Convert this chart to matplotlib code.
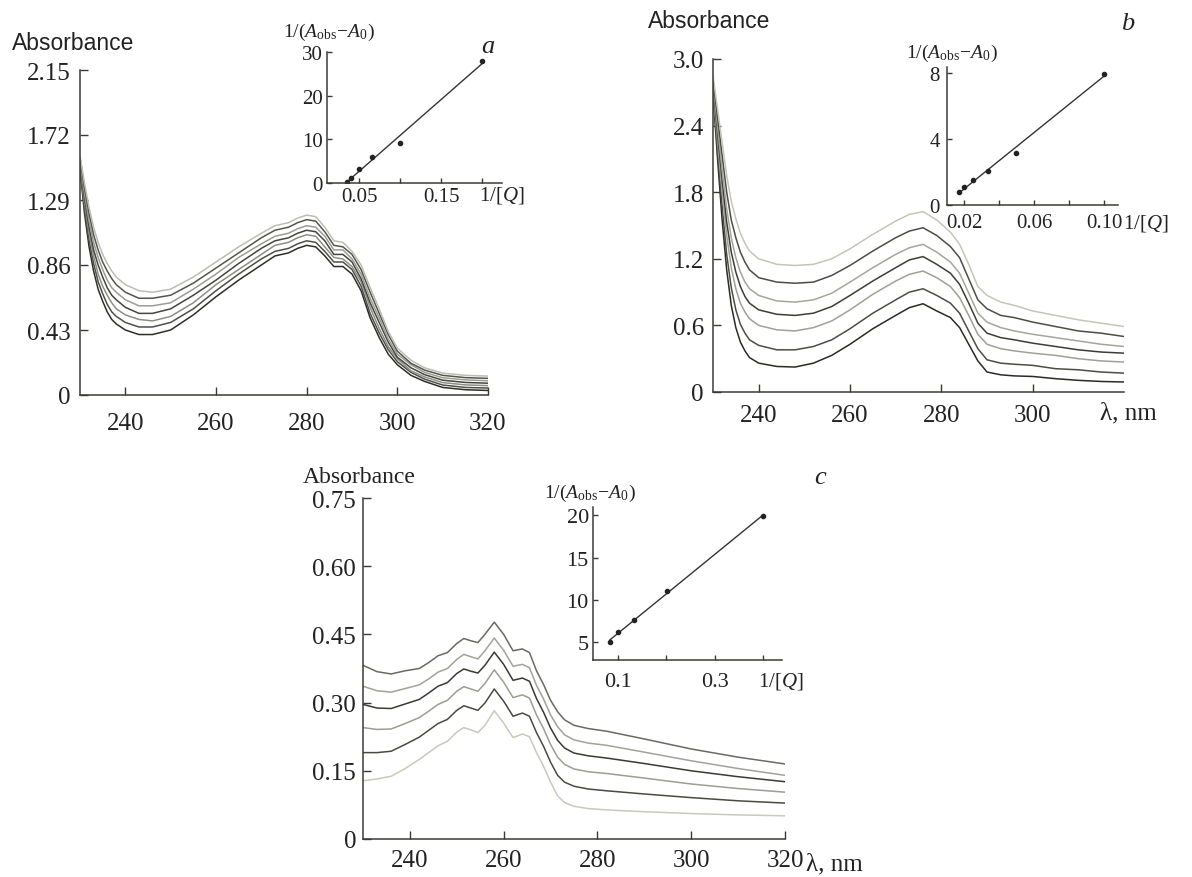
import numpy as np
import matplotlib
matplotlib.use("Agg")
import matplotlib.pyplot as plt

plt.rcParams['font.family'] = 'Liberation Serif'
plt.rcParams['mathtext.fontset'] = 'custom'
plt.rcParams['mathtext.rm'] = 'Liberation Serif'
plt.rcParams['mathtext.it'] = 'Liberation Serif:italic'

# ---- panel a: spectra (bottom curve first) ----
wl_a = [230, 231, 232, 233, 234, 235, 236, 237, 238, 240, 243, 246, 250, 255, 260, 265, 270, 273, 276,
        278, 280, 282, 284, 286, 288, 290, 292, 294, 296, 298, 300, 303, 306, 310, 315, 320]
a0 = [1.50, 1.20, 0.98, 0.82, 0.70, 0.62, 0.55, 0.50, 0.47, 0.43, 0.40, 0.40, 0.43, 0.53, 0.65, 0.76, 0.86, 0.92, 0.94,
      0.97, 0.99, 0.98, 0.92, 0.85, 0.85, 0.80, 0.69, 0.51, 0.38, 0.27, 0.20, 0.13, 0.09, 0.05, 0.035, 0.03]
a1 = [1.51, 1.23, 1.02, 0.87, 0.75, 0.67, 0.60, 0.55, 0.52, 0.48, 0.45, 0.45, 0.48, 0.57, 0.69, 0.80, 0.90, 0.95, 0.97,
      1.00, 1.02, 1.01, 0.95, 0.88, 0.88, 0.83, 0.72, 0.54, 0.41, 0.30, 0.22, 0.15, 0.105, 0.066, 0.05, 0.046]
a2 = [1.53, 1.27, 1.07, 0.92, 0.80, 0.72, 0.66, 0.61, 0.57, 0.53, 0.50, 0.49, 0.52, 0.61, 0.73, 0.83, 0.93, 0.99, 1.01,
      1.04, 1.06, 1.05, 0.98, 0.91, 0.90, 0.85, 0.75, 0.58, 0.44, 0.32, 0.24, 0.16, 0.12, 0.082, 0.067, 0.062]
a3 = [1.54, 1.30, 1.11, 0.96, 0.86, 0.78, 0.71, 0.66, 0.63, 0.58, 0.54, 0.54, 0.57, 0.66, 0.76, 0.87, 0.97, 1.02, 1.04,
      1.07, 1.09, 1.08, 1.02, 0.93, 0.93, 0.88, 0.77, 0.61, 0.48, 0.35, 0.25, 0.18, 0.135, 0.098, 0.083, 0.078]
a4 = [1.55, 1.33, 1.15, 1.01, 0.91, 0.83, 0.76, 0.71, 0.68, 0.63, 0.59, 0.59, 0.61, 0.70, 0.80, 0.91, 1.00, 1.05, 1.07,
      1.10, 1.12, 1.11, 1.05, 0.96, 0.96, 0.90, 0.80, 0.64, 0.51, 0.37, 0.27, 0.20, 0.15, 0.114, 0.10, 0.094]
a5 = [1.57, 1.37, 1.20, 1.06, 0.96, 0.88, 0.82, 0.77, 0.73, 0.68, 0.64, 0.64, 0.66, 0.74, 0.84, 0.94, 1.04, 1.09, 1.11,
      1.14, 1.16, 1.15, 1.08, 0.99, 0.98, 0.93, 0.83, 0.68, 0.54, 0.40, 0.29, 0.21, 0.165, 0.13, 0.115, 0.11]
a6 = [1.58, 1.40, 1.24, 1.11, 1.01, 0.93, 0.87, 0.82, 0.78, 0.73, 0.69, 0.68, 0.70, 0.78, 0.88, 0.98, 1.07, 1.12, 1.14,
      1.17, 1.19, 1.18, 1.11, 1.02, 1.01, 0.95, 0.86, 0.71, 0.57, 0.42, 0.31, 0.23, 0.18, 0.145, 0.13, 0.125]
cols_a = ['#2e2e29', '#4f4f48', '#8e8e86', '#45453f', '#9c9c94', '#55554d', '#bdbdb2']

# inset a
qa = [0.035, 0.040, 0.050, 0.066, 0.100, 0.200]
ra = [0.3, 1.1, 3.3, 5.9, 9.2, 27.9]

# ---- panel b ----
wl_b = [230, 231, 232, 233, 234, 235, 236, 237, 238, 240, 244, 248, 252, 256, 260, 265, 270, 273, 276, 279,
        282, 284, 286, 288, 290, 293, 296, 300, 305, 310, 315, 320]
b0 = [2.70, 2.10, 1.55, 1.10, 0.78, 0.58, 0.45, 0.37, 0.31, 0.26, 0.23, 0.225, 0.26, 0.33, 0.43, 0.57, 0.69, 0.76,
      0.795, 0.73, 0.67, 0.58, 0.43, 0.28, 0.18, 0.155, 0.145, 0.14, 0.12, 0.105, 0.095, 0.09]
b1 = [2.72, 2.17, 1.67, 1.24, 0.94, 0.74, 0.61, 0.53, 0.47, 0.42, 0.38, 0.38, 0.41, 0.47, 0.57, 0.71, 0.83, 0.90,
      0.93, 0.87, 0.80, 0.71, 0.55, 0.39, 0.29, 0.26, 0.25, 0.24, 0.21, 0.20, 0.18, 0.17]
b2 = [2.75, 2.26, 1.80, 1.41, 1.12, 0.93, 0.80, 0.72, 0.66, 0.60, 0.56, 0.55, 0.58, 0.64, 0.74, 0.88, 1.00, 1.06,
      1.09, 1.03, 0.95, 0.85, 0.69, 0.52, 0.43, 0.39, 0.37, 0.35, 0.33, 0.30, 0.28, 0.27]
b3 = [2.78, 2.33, 1.91, 1.53, 1.26, 1.08, 0.95, 0.86, 0.80, 0.74, 0.70, 0.69, 0.71, 0.77, 0.87, 1.00, 1.12, 1.19,
      1.22, 1.15, 1.07, 0.97, 0.80, 0.62, 0.53, 0.49, 0.47, 0.44, 0.41, 0.38, 0.36, 0.35]
b4 = [2.80, 2.39, 2.00, 1.65, 1.39, 1.21, 1.08, 0.99, 0.93, 0.87, 0.82, 0.81, 0.83, 0.89, 0.99, 1.12, 1.24, 1.30,
      1.33, 1.26, 1.17, 1.07, 0.89, 0.71, 0.63, 0.58, 0.55, 0.52, 0.49, 0.46, 0.43, 0.41]
b5 = [2.82, 2.47, 2.13, 1.80, 1.55, 1.39, 1.26, 1.17, 1.10, 1.03, 0.99, 0.98, 0.99, 1.05, 1.14, 1.27, 1.39, 1.45,
      1.48, 1.41, 1.31, 1.21, 1.02, 0.83, 0.75, 0.69, 0.67, 0.63, 0.59, 0.55, 0.53, 0.50]
b6 = [2.85, 2.55, 2.25, 1.95, 1.72, 1.56, 1.43, 1.34, 1.27, 1.20, 1.15, 1.14, 1.15, 1.20, 1.29, 1.42, 1.54, 1.60,
      1.625, 1.55, 1.44, 1.33, 1.15, 0.95, 0.87, 0.81, 0.78, 0.73, 0.69, 0.65, 0.62, 0.59]
cols_b = ['#2a2a25', '#4d4d45', '#a0a096', '#3d3d37', '#a5a59a', '#4d4d45', '#c5c5b8']

qb = [0.0167, 0.020, 0.025, 0.0333, 0.0497, 0.100]
rb = [0.79, 1.06, 1.52, 2.07, 3.14, 7.94]

# ---- panel c ----
wl_c = [230, 233, 236, 239, 242, 244, 246, 248, 250, 251.5, 253, 254.5, 256, 258, 260, 262, 264, 265.5,
        267, 268.5, 270, 271.5, 273, 275, 278, 282, 290, 300, 310, 320]
c0 = [0.128, 0.132, 0.138, 0.155, 0.175, 0.19, 0.205, 0.215, 0.235, 0.245, 0.24, 0.234, 0.25, 0.282, 0.255, 0.223,
      0.231, 0.225, 0.19, 0.16, 0.125, 0.095, 0.08, 0.072, 0.067, 0.064, 0.060, 0.056, 0.053, 0.051]
c1 = [0.190, 0.190, 0.193, 0.208, 0.224, 0.239, 0.254, 0.263, 0.283, 0.293, 0.288, 0.283, 0.299, 0.330, 0.303, 0.270,
      0.277, 0.270, 0.234, 0.204, 0.169, 0.140, 0.125, 0.116, 0.110, 0.106, 0.099, 0.091, 0.084, 0.079]
c2 = [0.245, 0.241, 0.242, 0.254, 0.267, 0.281, 0.296, 0.305, 0.325, 0.335, 0.330, 0.325, 0.342, 0.372, 0.345, 0.311,
      0.317, 0.310, 0.273, 0.243, 0.208, 0.180, 0.164, 0.154, 0.148, 0.144, 0.134, 0.121, 0.111, 0.103]
c3 = [0.296, 0.288, 0.287, 0.297, 0.307, 0.321, 0.336, 0.344, 0.364, 0.374, 0.369, 0.365, 0.382, 0.411, 0.384, 0.349,
      0.354, 0.347, 0.309, 0.279, 0.244, 0.217, 0.200, 0.189, 0.183, 0.178, 0.166, 0.150, 0.137, 0.126]
c4 = [0.336, 0.326, 0.323, 0.331, 0.339, 0.352, 0.367, 0.375, 0.395, 0.406, 0.401, 0.396, 0.414, 0.442, 0.415, 0.380,
      0.384, 0.377, 0.338, 0.308, 0.273, 0.247, 0.229, 0.218, 0.211, 0.206, 0.191, 0.172, 0.155, 0.140]
c5 = [0.382, 0.368, 0.363, 0.370, 0.375, 0.388, 0.403, 0.410, 0.430, 0.441, 0.436, 0.432, 0.450, 0.477, 0.450, 0.414,
      0.418, 0.410, 0.370, 0.340, 0.305, 0.280, 0.262, 0.250, 0.243, 0.237, 0.220, 0.198, 0.180, 0.165]
cols_c = ['#c9c9bd', '#4a4a43', '#9d9d93', '#3a3a34', '#a2a298', '#6a6a62']

qc = [0.0834, 0.1006, 0.1337, 0.2008, 0.4007]
rc = [4.96, 6.15, 7.65, 11.0, 19.98]

W, H = 1192, 878
AXC = '#3a3a35'
TXT = '#222222'


def box(l, t, r, b):
    return [l / W, 1 - b / H, (r - l) / W, (b - t) / H]


def put(x, y, s, **kw):
    fig.text(x / W, 1 - y / H, s, color=TXT, **kw)


def style(ax, size, xpad, ypad, ticklen):
    ax.set_facecolor('none')
    for s in ['top', 'right']:
        ax.spines[s].set_visible(False)
    for s in ['left', 'bottom']:
        ax.spines[s].set_color(AXC)
        ax.spines[s].set_linewidth(1.1)
    ax.tick_params(direction='in', length=ticklen, width=1.0, color=AXC,
                   labelsize=size, labelcolor=TXT)
    ax.tick_params(axis='x', pad=xpad)
    ax.tick_params(axis='y', pad=ypad)


def spectra(ax, wl, curves, cols):
    for vals, col in zip(curves, cols):
        ax.plot(wl, vals, color=col, lw=1.1, solid_joinstyle='round')


def fit_inset(ax, q, r):
    q = np.array(q)
    k, b = np.polyfit(q, r, 1)
    xs = np.array([q.min(), q.max()])
    ax.plot(xs, k * xs + b, color='#333330', lw=1.0)
    ax.plot(q, r, 'o', ms=3, color='#222222')


fig = plt.figure(figsize=(W / 100, H / 100), dpi=100)

# panel a
ax = fig.add_axes(box(80, 71, 488, 396))
spectra(ax, wl_a, [a0, a1, a2, a3, a4, a5, a6], cols_a)
ax.set_xlim(230, 320)
ax.set_ylim(0, 2.15)
ax.set_xticks([240, 260, 280, 300, 320])
ax.set_yticks([0, 0.43, 0.86, 1.29, 1.72, 2.15])
ax.set_yticklabels(['0', '0.43', '0.86', '1.29', '1.72', '2.15'])
style(ax, 18, 12, 6.5, 5.5)

ins = fig.add_axes(box(327, 53, 502, 184))
fit_inset(ins, qa, ra)
ins.set_xlim(0.0106, 0.224)
ins.set_ylim(0, 30)
ins.set_xticks([0.05, 0.10, 0.15, 0.20])
ins.set_xticklabels(['0.05', '', '0.15', ''])
ins.set_yticks([0, 10, 20, 30])
style(ins, 15, 3, 3, 3.5)

put(12, 43, 'Absorbance', family='Liberation Sans', fontsize=16.5, va='center', ha='left')
put(283, 32, r'$1/(A_{\mathrm{obs}}\!-\!A_0)$', fontsize=14, va='center', ha='left')
put(488, 47, 'a', fontsize=19, style='italic', va='center', ha='center')
put(502, 196, r'$1/[Q]$', fontsize=15, va='center', ha='center')

# panel b
ax = fig.add_axes(box(713, 60, 1124, 393))
spectra(ax, wl_b, [b0, b1, b2, b3, b4, b5, b6], cols_b)
ax.set_xlim(230, 320)
ax.set_ylim(0, 3.0)
ax.set_xticks([240, 260, 280, 300])
ax.set_yticks([0, 0.6, 1.2, 1.8, 2.4, 3.0])
ax.set_yticklabels(['0', '0.6', '1.2', '1.8', '2.4', '3.0'])
style(ax, 18, 8.5, 6.5, 5.5)

ins = fig.add_axes(box(947, 68, 1118, 206))
fit_inset(ins, qb, rb)
ins.set_xlim(0.0101, 0.108)
ins.set_ylim(0, 8.35)
ins.set_xticks([0.02, 0.04, 0.06, 0.08, 0.10])
ins.set_xticklabels(['0.02', '', '0.06', '', '0.10'])
ins.set_yticks([0, 4, 8])
style(ins, 15, 6, 5, 3.5)

put(648, 22, 'Absorbance', family='Liberation Sans', fontsize=16.5, va='center', ha='left')
put(906, 53, r'$1/(A_{\mathrm{obs}}\!-\!A_0)$', fontsize=14, va='center', ha='left')
put(1128, 24, 'b', fontsize=19, style='italic', va='center', ha='center')
put(1146, 224, r'$1/[Q]$', fontsize=15, va='center', ha='center')
put(1128, 413, 'λ, nm', fontsize=18, va='center', ha='center')

# panel c
ax = fig.add_axes(box(363, 499, 785, 840))
spectra(ax, wl_c, [c0, c1, c2, c3, c4, c5], cols_c)
ax.set_xlim(230, 320)
ax.set_ylim(0, 0.75)
ax.set_xticks([240, 260, 280, 300, 320])
ax.set_yticks([0, 0.15, 0.30, 0.45, 0.60, 0.75])
ax.set_yticklabels(['0', '0.15', '0.30', '0.45', '0.60', '0.75'])
style(ax, 18, 7.5, 5, 5.5)

ins = fig.add_axes(box(593, 508, 782, 661))
fit_inset(ins, qc, rc)
ins.set_xlim(0.0483, 0.439)
ins.set_ylim(2.86, 21.0)
ins.set_xticks([0.1, 0.2, 0.3, 0.4])
ins.set_xticklabels(['0.1', '', '0.3', ''])
ins.set_yticks([5, 10, 15, 20])
style(ins, 16, 9, 3, 3.5)

put(303, 478, 'Absorbance', fontsize=17, va='center', ha='left')
put(544, 493, r'$1/(A_{\mathrm{obs}}\!-\!A_0)$', fontsize=14, va='center', ha='left')
put(820, 478, 'c', fontsize=19, style='italic', va='center', ha='center')
put(781, 682, r'$1/[Q]$', fontsize=15, va='center', ha='center')
put(806, 864, 'λ, nm', fontsize=18, va='center', ha='left')

fig.savefig('out.png', dpi=100)
